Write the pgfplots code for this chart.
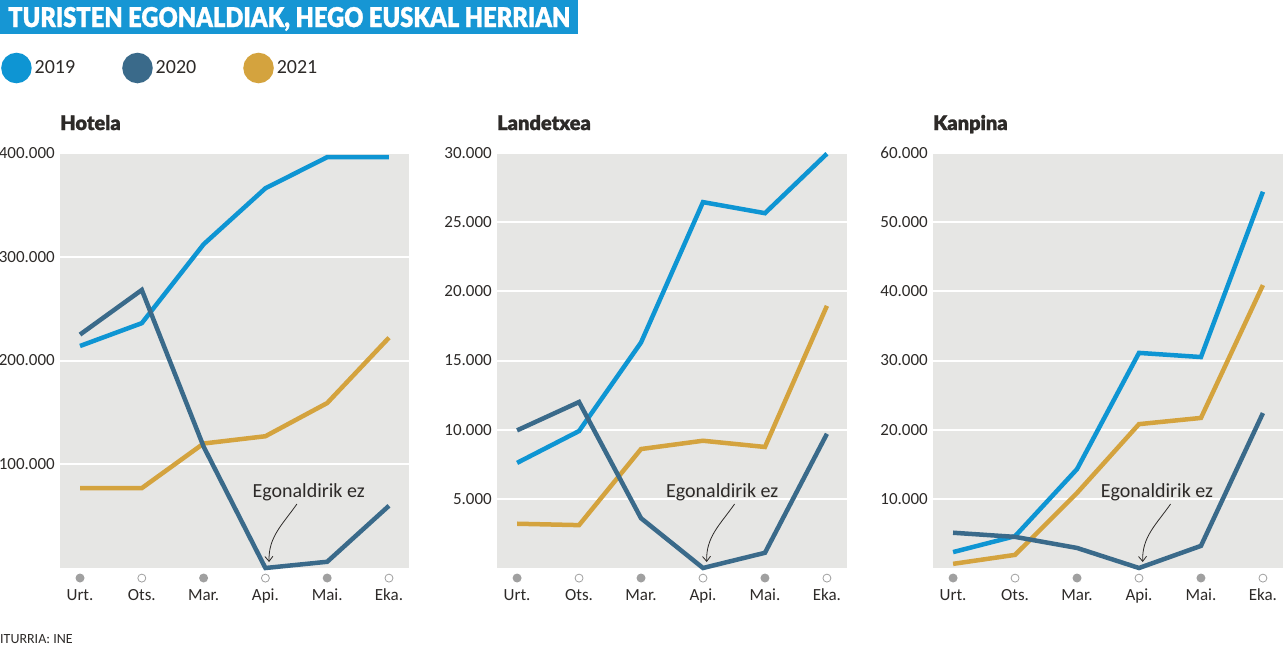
\documentclass[border=0pt]{standalone}
\usepackage{fontspec}
\setmainfont{Carlito}
\newfontfamily\heavy{Lato Black}[FakeBold=1.2]
\usepackage{pgfplots}
\pgfplotsset{compat=1.18}
\usetikzlibrary{arrows.meta}
\definecolor{cA}{RGB}{14,149,211}
\definecolor{cB}{RGB}{58,106,138}
\definecolor{cC}{RGB}{212,163,62}
\definecolor{bgc}{RGB}{230,230,228}
\definecolor{txt}{RGB}{45,42,40}
\definecolor{dotc}{RGB}{160,160,160}
\definecolor{banner}{RGB}{22,150,212}

\newcommand{\fd}[1]{\setbox0\hbox{#1}\hbox to \wd0{\hss\raisebox{17.5pt}[0pt][0pt]{\tikz\fill[dotc] (0pt,0pt) circle (4.5pt);}\hss}\llap{\box0}}
\newcommand{\hd}[1]{\setbox0\hbox{#1}\hbox to \wd0{\hss\raisebox{17.5pt}[0pt][0pt]{\tikz\draw[dotc,fill=white,line width=0.8pt] (0pt,0pt) circle (4pt);}\hss}\llap{\box0}}

\tikzset{annot/.style={font=\fontsize{20}{20}\selectfont, text=txt, inner sep=0pt}}
\pgfplotsset{
  panel/.style={
    scale only axis, height=415pt,
    xmin=-0.324, xmax=5.324, ymin=0,
    axis line style={draw=none}, major tick length=0pt,
    axis background/.style={fill=bgc},
    ymajorgrids, grid style={white, line width=2pt},
    xtick={0,...,5},
    xticklabels={{\fd{Urt.}},{\hd{Ots.}},{\fd{Mar.}},{\hd{Api.}},{\fd{Mai.}},{\hd{Eka.}}},
    xticklabel style={anchor=base, yshift=-32pt, inner sep=0pt},
    yticklabel style={anchor=east, inner sep=0pt, xshift=-5pt,
      /pgf/number format/.cd, fixed, 1000 sep={.}, assume math mode=true},
    scaled y ticks=false,
    tick label style={font=\fontsize{17}{17}\selectfont, text=txt},
    clip=false,
    title style={at={(0,1)}, anchor=base west, yshift=17pt, inner sep=0pt,
      font=\heavy\fontsize{20}{20}\selectfont, text=txt},
    every axis plot/.append style={line width=4.5pt, no markers},
  },
}
\newcommand{\annotate}[1]{%
  \node[annot] at ([yshift=76pt]axis cs:#1,0) {Egonaldirik ez};
  \draw[-{Straight Barb[length=5pt,width=8pt]}, line width=0.8pt, txt]
    ([yshift=64pt]axis cs:3.51,0) to[out=235,in=92] ([yshift=6pt]axis cs:3.06,0);
}

\begin{document}
\begin{tikzpicture}
\useasboundingbox (0pt,0pt) rectangle (1283pt,-646pt);
\fill[banner] (0pt,0pt) rectangle (578pt,-34pt);
\node[anchor=base west, inner sep=0pt, text=white] at (8pt,-27pt)
  {\resizebox{562pt}{20pt}{\heavy TURISTEN EGONALDIAK, HEGO EUSKAL HERRIAN}};
\node[anchor=base west, inner sep=0pt, text=txt, font=\fontsize{14}{14}\selectfont] at (0pt,-643pt) {ITURRIA: INE};

% Hotela
\begin{axis}[panel, width=349pt, at={(60pt,-568pt)}, anchor=south west,
  ymax=400000, ytick={100000,200000,300000,400000},
  title={Hotela},
  legend columns=3,
  legend image code/.code={\fill[#1] (13pt,0pt) circle (13pt);},
  legend style={at={(0,1)}, anchor=west, xshift=-59pt, yshift=85pt,
    draw=none, fill=none, inner sep=0pt, text=txt,
    font=\fontsize{20}{20}\selectfont,
    nodes={inner sep=3pt},
    /tikz/every even column/.append style={column sep=44pt}},
]
\addlegendimage{cA}\addlegendentry{2019}
\addlegendimage{cB}\addlegendentry{2020}
\addlegendimage{cC}\addlegendentry{2021}
\addplot[cC] coordinates {(0,77000)(1,77000)(2,120000)(3,127000)(4,159000)(5,222000)};
\addplot[cA] coordinates {(0,214000)(1,236000)(2,312000)(3,366000)(4,396000)(5,396000)};
\addplot[cB] coordinates {(0,225000)(1,268000)(2,117000)(3,0)(4,6000)(5,60000)};
\annotate{3.70}
\end{axis}

% Landetxea
\begin{axis}[panel, width=350pt, at={(497pt,-568pt)}, anchor=south west,
  ymax=30000, ytick={5000,10000,15000,20000,25000,30000},
  title={Landetxea}]
\addplot[cC] coordinates {(0,3200)(1,3100)(2,8600)(3,9200)(4,8750)(5,18950)};
\addplot[cA] coordinates {(0,7600)(1,9900)(2,16300)(3,26450)(4,25650)(5,29950)};
\addplot[cB] coordinates {(0,9950)(1,12000)(2,3600)(3,0)(4,1100)(5,9700)};
\annotate{3.31}
\end{axis}

% Kanpina
\begin{axis}[panel, width=350pt, at={(933pt,-568pt)}, anchor=south west,
  ymax=60000, ytick={10000,20000,30000,40000,50000,60000},
  title={Kanpina}]
\addplot[cC] coordinates {(0,600)(1,1900)(2,10850)(3,20800)(4,21700)(5,40900)};
\addplot[cA] coordinates {(0,2300)(1,4600)(2,14300)(3,31100)(4,30500)(5,54400)};
\addplot[cB] coordinates {(0,5100)(1,4500)(2,2900)(3,0)(4,3200)(5,22400)};
\annotate{3.29}
\end{axis}
\end{tikzpicture}
\end{document}
